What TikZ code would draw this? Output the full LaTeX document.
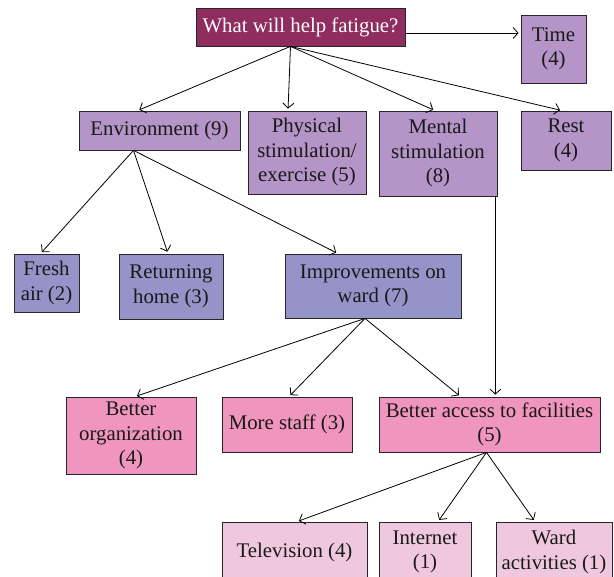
\documentclass[tikz,border=0pt]{standalone}
\usepackage{fontspec}
\setmainfont{Liberation Serif}
\usetikzlibrary{arrows.meta,shadows}
\definecolor{rootc}{HTML}{8F2D5F}
\definecolor{lilac}{HTML}{B594C8}
\definecolor{slate}{HTML}{9494C8}
\definecolor{pinkc}{HTML}{F095BE}
\definecolor{lightp}{HTML}{EFC8E0}
\tikzset{
  box/.style={draw=black!85, line width=0.8pt, rectangle, inner sep=0pt, align=center,
    font=\fontsize{20.8}{24.5}\selectfont, text=black!90,
    drop shadow={shadow xshift=1.3pt, shadow yshift=-1.3pt, fill=black!70, opacity=1}},
  arr/.style={draw=black, line width=0.8pt, -{Straight Barb[length=5pt,width=11pt]}, shorten >=2pt}
}
\begin{document}
\begin{tikzpicture}[x=1pt,y=-1pt]
\useasboundingbox[fill=white] (0,0) rectangle (614,577);
\node[box, fill=rootc, text=white, minimum width=209pt, minimum height=38pt] (root) at (300.5,27) {What will help fatigue?};
\node[box, fill=lilac, minimum width=65pt, minimum height=68pt] (time) at (553.5,49) {Time\\(4)};
\node[box, fill=lilac, minimum width=161pt, minimum height=39pt] (env) at (159.5,130.5) {Environment (9)};
\node[box, fill=lilac, minimum width=118pt, minimum height=83pt] (phys) at (307,152.5) {Physical\\stimulation/\\exercise (5)};
\node[box, fill=lilac, minimum width=118pt, minimum height=85pt] (mental) at (438,153.5) {Mental\\stimulation\\(8)};
\node[box, fill=lilac, minimum width=90pt, minimum height=59pt] (rest) at (566,140.5) {Rest\\(4)};
\node[box, fill=slate, minimum width=65pt, minimum height=58pt] (fresh) at (46.5,283) {Fresh\\air (2)};
\node[box, fill=slate, minimum width=104pt, minimum height=65pt] (return) at (171,286.5) {Returning\\home (3)};
\node[box, fill=slate, minimum width=176pt, minimum height=64pt] (improv) at (373,286) {Improvements on\\ward (7)};
\node[box, fill=pinkc, minimum width=130pt, minimum height=77pt] (org) at (131,435.5) {Better\\organization\\(4)};
\node[box, fill=pinkc, minimum width=130pt, minimum height=55pt] (staff) at (287,424.5) {More staff (3)};
\node[box, fill=pinkc, minimum width=221pt, minimum height=55pt] (access) at (489.5,424.5) {Better access to facilities\\(5)};
\node[box, fill=lightp, minimum width=145pt, minimum height=60pt] (tv) at (294.5,552) {Television (4)};
\node[box, fill=lightp, minimum width=92pt, minimum height=60pt] (internet) at (425,552) {Internet\\(1)};
\node[box, fill=lightp, minimum width=116pt, minimum height=60pt] (ward) at (554,552) {Ward\\activities (1)};
% edges
\coordinate (rs) at ([xshift=-10pt]root.south);
\draw[arr] (rs) -- ([xshift=-22pt]env.north);
\draw[arr] (rs) -- ([xshift=-19pt]phys.north);
\draw[arr] (rs) -- ([xshift=-3pt]mental.north);
\draw[arr] (rs) -- ([xshift=-4pt]rest.north);
\draw[arr] ([yshift=-6pt]root.east) -- ([yshift=-6pt]root.east -| time.west);
\coordinate (es) at ([xshift=-26pt]env.south);
\draw[arr] (es) -- ([xshift=-6pt]fresh.north);
\draw[arr] (es) -- ([xshift=-3pt]return.north);
\draw[arr] (es) -- ([xshift=-35pt]improv.north);
\coordinate (is) at ([xshift=-8pt]improv.south);
\draw[arr] (is) -- ([xshift=4pt]org.north);
\draw[arr] (is) -- ([xshift=2pt]staff.north);
\draw[arr] (is) -- ([xshift=-29pt]access.north);
\coordinate (ms) at ([xshift=-2pt]mental.south east);
\draw[arr] (ms) -- (ms |- access.north);
\coordinate (as) at ([xshift=-3pt]access.south);
\draw[arr] (as) -- ([xshift=2.5pt]tv.north);
\draw[arr] (as) -- ([xshift=13pt]internet.north);
\draw[arr] (as) -- ([xshift=-19pt]ward.north);
\end{tikzpicture}
\end{document}
